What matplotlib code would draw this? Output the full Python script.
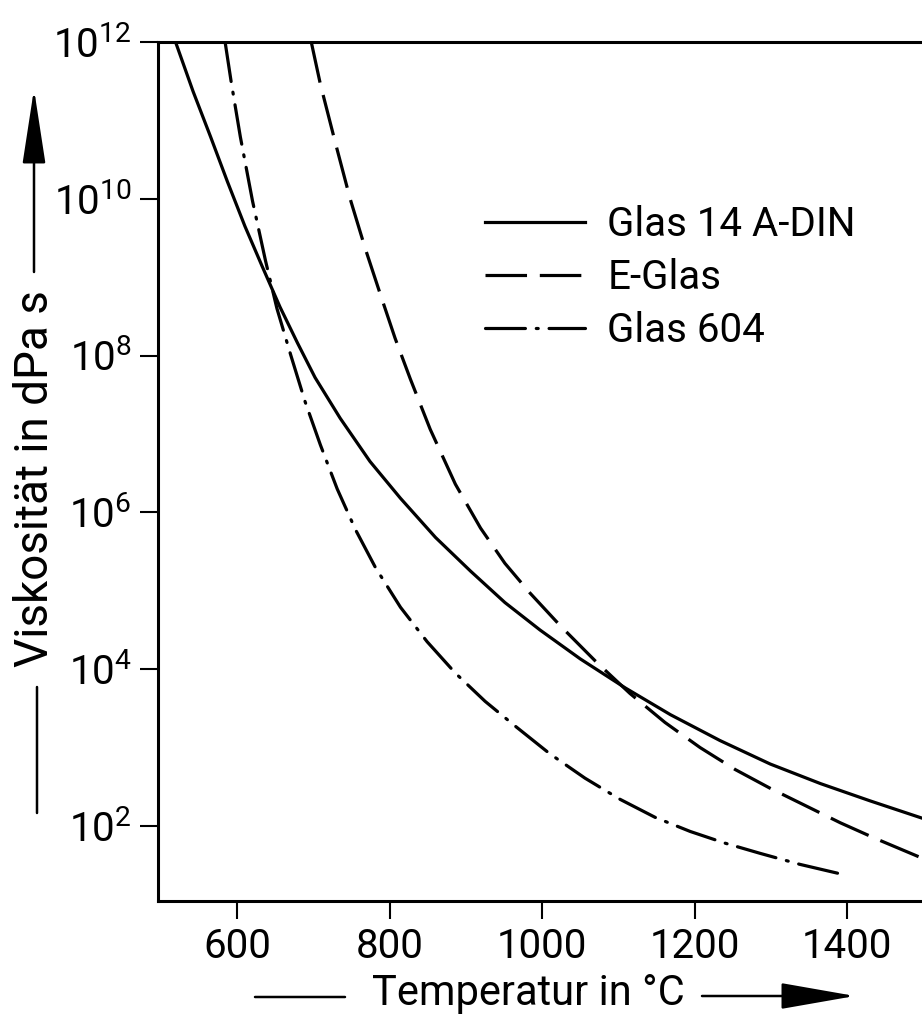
import matplotlib
matplotlib.use("Agg")
import matplotlib.pyplot as plt
import numpy as np

plt.rcParams['font.family'] = ['Roboto', 'DejaVu Sans']

# Viskositaet (log10 dPa s) ueber Temperatur (C)
t_din = [519, 542, 565, 587, 610, 633, 656, 679, 702, 735, 774, 814, 860, 906,
         951, 997, 1050, 1109, 1168, 1233, 1299, 1365, 1430, 1498]
eta_din = [12.0, 11.37, 10.79, 10.22, 9.65, 9.13, 8.62, 8.16, 7.72, 7.20, 6.65, 6.18,
           5.68, 5.25, 4.85, 4.50, 4.13, 3.76, 3.42, 3.09, 2.79, 2.54, 2.32, 2.10]

t_e = [697, 709, 729, 748, 768, 788, 807, 827, 853, 886, 919, 951, 984, 1024,
       1070, 1115, 1161, 1207, 1253, 1299, 1345, 1391, 1437, 1498]
eta_e = [12.0, 11.46, 10.70, 10.00, 9.36, 8.77, 8.22, 7.70, 7.06, 6.36, 5.80, 5.35,
         4.97, 4.55, 4.10, 3.69, 3.32, 3.00, 2.72, 2.48, 2.26, 2.04, 1.84, 1.59]

t_604 = [584, 592, 604, 620, 637, 652, 670, 689, 709, 731, 755, 781, 814, 849,
         886, 925, 965, 1010, 1056, 1102, 1148, 1194, 1240, 1286, 1338, 1395]
eta_604 = [12.0, 11.49, 10.79, 9.97, 9.21, 8.60, 8.01, 7.41, 6.86, 6.30, 5.78, 5.30,
           4.79, 4.35, 3.95, 3.59, 3.27, 2.92, 2.61, 2.34, 2.11, 1.93, 1.78, 1.65,
           1.51, 1.38]

labels = ["Glas 14 A-DIN", "E-Glas", "Glas 604"]
xticks = [600, 800, 1000, 1200, 1400]
yticks = [1e2, 1e4, 1e6, 1e8, 1e10, 1e12]

W, H = 922, 1015
fig = plt.figure(figsize=(W / 100, H / 100), dpi=100)
ax = fig.add_axes([158 / W, 114 / H, 764 / W, 859 / H])

lw = 2.3
ax.plot(t_din, 10 ** np.array(eta_din), color="k", lw=lw, label=labels[0])
ax.plot(t_e, 10 ** np.array(eta_e), color="k", lw=lw, ls=(0, (13, 4)), label=labels[1])
ax.plot(t_604, 10 ** np.array(eta_604), color="k", lw=lw, ls=(0, (12.5, 3.4, 0.6, 3.4)),
        dash_capstyle="round", label=labels[2])

ax.set_yscale("log")
ax.set_xlim(496, 1498)
ax.set_ylim(10 ** 1.043, 1e12)
ax.set_xticks(xticks)
ax.set_yticks(yticks)
ax.minorticks_off()
ax.tick_params(axis="both", direction="out", length=13, width=1.5, labelsize=29, pad=6)

for side in ["left", "bottom", "top"]:
    ax.spines[side].set_linewidth(2.2)
ax.spines["right"].set_visible(False)

ax.legend(frameon=False, loc="upper left", bbox_to_anchor=(0.401, 0.834),
          prop=dict(family="Roboto", size=29), handlelength=2.5,
          handletextpad=0.55, labelspacing=0.35, borderpad=0)

# Achsbeschriftungen mit Pfeilen
def fy(y):
    return H - y

fig.text(528 / W, fy(993) / H, "Temperatur in °C", ha="center", va="center",
         fontsize=30, family="Roboto")
fig.text(35 / W, fy(479) / H, "Viskosität in dPa s", ha="center", va="center",
         rotation=90, fontsize=33, family="Roboto")

ax.annotate("", xy=(855, fy(996)), xytext=(702, fy(996)), xycoords="figure pixels",
            arrowprops=dict(arrowstyle="-|>,head_length=2.34,head_width=0.41",
                            mutation_scale=20, lw=1.8, color="k", shrinkA=0, shrinkB=0))
ax.annotate("", xy=(255, fy(997)), xytext=(345, fy(997)), xycoords="figure pixels",
            arrowprops=dict(arrowstyle="-", lw=1.8, color="k", shrinkA=0, shrinkB=0))
ax.annotate("", xy=(34, fy(89)), xytext=(34, fy(272)), xycoords="figure pixels",
            arrowprops=dict(arrowstyle="-|>,head_length=2.34,head_width=0.36",
                            mutation_scale=20, lw=1.8, color="k", shrinkA=0, shrinkB=0))
ax.annotate("", xy=(37, fy(687)), xytext=(37, fy(813)), xycoords="figure pixels",
            arrowprops=dict(arrowstyle="-", lw=1.8, color="k", shrinkA=0, shrinkB=0))

fig.savefig("out.png", dpi=100)
